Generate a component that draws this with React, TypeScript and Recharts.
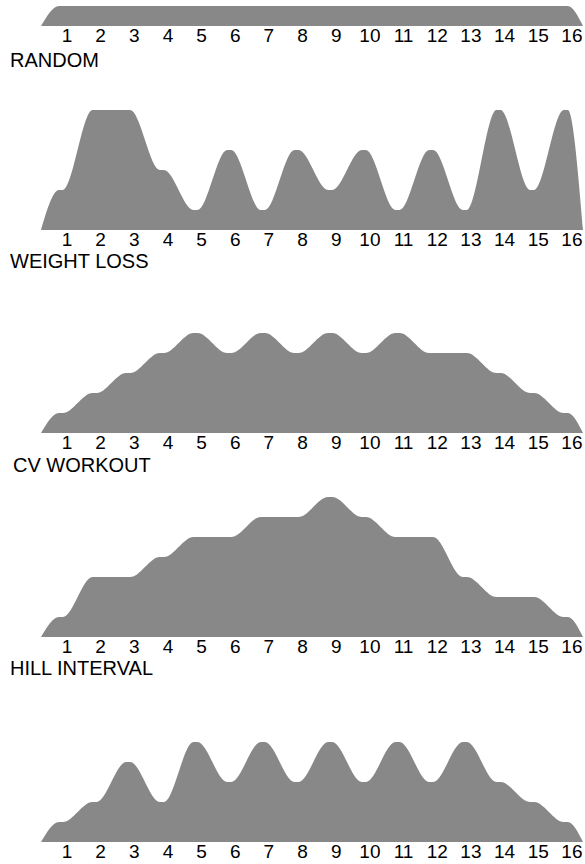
import { Area, AreaChart, XAxis, YAxis } from "recharts";

// workout programme profiles, one level per segment (1 level = 20px)
const segments = [1, 2, 3, 4, 5, 6, 7, 8, 9, 10, 11, 12, 13, 14, 15, 16];
const randomLevels = [1, 1, 1, 1, 1, 1, 1, 1, 1, 1, 1, 1, 1, 1, 1, 1];
const weightLossLevels = [2, 6, 6, 3, 1, 4, 1, 4, 2, 4, 1, 4, 1, 6, 2, 6];
const cvWorkoutLevels = [1, 2, 3, 4, 5, 4, 5, 4, 5, 4, 5, 4, 4, 3, 2, 1];
const hillIntervalLevels = [1, 3, 3, 4, 5, 5, 6, 6, 7, 6, 5, 5, 3, 2, 2, 1];
const lastLevels = [1, 2, 4, 2, 5, 3, 5, 3, 5, 3, 5, 3, 5, 3, 2, 1];
const titles = ["RANDOM", "WEIGHT LOSS", "CV WORKOUT", "HILL INTERVAL"];

const FONT = "'Liberation Sans', Arial, sans-serif";
const X_START = 0.23;
const X_END = 16.33;
const SHIFT = 0.18; // segment centre sits a bit left of its tick
const HALF = 0.06;
const LEVEL_PX = 20;

const toProfile = (levels: number[]) => [
  { x: X_START, y: 0 },
  ...levels.flatMap((v, i) => [
    { x: segments[i] - SHIFT - HALF, y: v },
    { x: segments[i] - SHIFT + HALF, y: v },
  ]),
  { x: X_END, y: 0 },
];

type ProfileProps = { levels: number[]; baseline: number; maxLevel: number };

const Profile = ({ levels, baseline, maxLevel }: ProfileProps) => {
  const plotH = maxLevel * LEVEL_PX;
  return (
    <div style={{ position: "absolute", left: 0, top: baseline - plotH }}>
      <AreaChart
        width={585}
        height={plotH + 30}
        data={toProfile(levels)}
        margin={{ top: 0, right: 2, bottom: 0, left: 41 }}
      >
        <XAxis
          type="number"
          dataKey="x"
          domain={[X_START, X_END]}
          ticks={segments}
          interval={0}
          allowDataOverflow
          tickLine={false}
          axisLine={false}
          tickSize={0}
          tickMargin={3}
          height={30}
          tick={{ fill: "#000", fontSize: 19, fontFamily: FONT }}
        />
        <YAxis hide domain={[0, maxLevel]} />
        <Area
          type="monotone"
          dataKey="y"
          fill="#888888"
          fillOpacity={1}
          stroke="none"
          dot={false}
          activeDot={false}
          isAnimationActive={false}
        />
      </AreaChart>
    </div>
  );
};

const Title = ({ text, top, left }: { text: string; top: number; left: number }) => (
  <div
    style={{
      position: "absolute",
      top,
      left,
      fontFamily: FONT,
      fontSize: 20,
      color: "#000",
      whiteSpace: "nowrap",
    }}
  >
    {text}
  </div>
);

export default function App() {
  return (
    <div
      style={{
        position: "absolute",
        top: 0,
        left: 0,
        width: 585,
        height: 864,
        background: "#fff",
        overflow: "hidden",
      }}
    >
      <Profile levels={randomLevels} baseline={26} maxLevel={1} />
      <Title text={titles[0]} top={49} left={10} />
      <Profile levels={weightLossLevels} baseline={230} maxLevel={8} />
      <Title text={titles[1]} top={250} left={10} />
      <Profile levels={cvWorkoutLevels} baseline={433} maxLevel={8} />
      <Title text={titles[2]} top={454} left={13} />
      <Profile levels={hillIntervalLevels} baseline={637} maxLevel={8} />
      <Title text={titles[3]} top={657} left={10} />
      <Profile levels={lastLevels} baseline={842} maxLevel={8} />
    </div>
  );
}
